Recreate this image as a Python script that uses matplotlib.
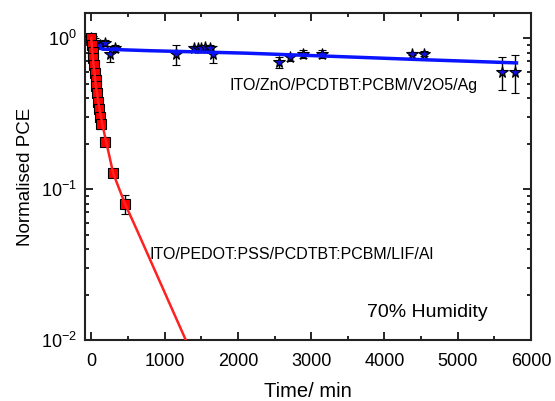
import matplotlib
matplotlib.use("Agg")
import matplotlib.pyplot as plt
from matplotlib.ticker import MultipleLocator, LogLocator, NullFormatter

plt.rcParams['font.family'] = ['Liberation Sans', 'DejaVu Sans']
plt.rcParams['mathtext.fontset'] = 'custom'
plt.rcParams['mathtext.rm'] = 'Liberation Sans'

# PEDOT:PSS / LiF device (red squares)
red_t = [0, 10, 20, 30, 40, 50, 60, 70, 80, 95, 110, 125, 140, 190, 300, 455]
red_v = [1.0, 0.90, 0.81, 0.74, 0.66, 0.59, 0.53, 0.48, 0.43, 0.38, 0.34, 0.30, 0.27, 0.205, 0.128, 0.080]
red_err = [0.03, 0.03, 0.02, 0.02, 0.02, 0.02, 0.02, 0.02, 0.02, 0.02, 0.02, 0.02, 0.02, 0.01, 0.008, 0.012]
red_fit_t = [0, 25, 60, 95, 150, 300, 460, 620, 1290]
red_fit_v = [1.0, 0.72, 0.50, 0.38, 0.27, 0.127, 0.080, 0.054, 0.010]

# ZnO / V2O5 device (blue stars)
blue_t = [0, 50, 118, 186, 255, 322, 1162, 1400, 1450, 1500, 1550, 1615, 1656,
          2558, 2713, 2885, 3148, 4381, 4540, 5605, 5778]
blue_v = [1.0, 0.945, 0.90, 0.93, 0.79, 0.855, 0.78, 0.855, 0.86, 0.86, 0.87, 0.86, 0.78,
          0.69, 0.75, 0.79, 0.79, 0.79, 0.79, 0.60, 0.60]
blue_err = [0.03, 0.05, 0.05, 0.04, 0.10, 0.04, 0.12, 0.03, 0.03, 0.03, 0.03, 0.04, 0.10,
            0.06, 0.04, 0.05, 0.05, 0.02, 0.03, 0.15, 0.17]
blue_fit_t = [0, 30, 70, 160, 800, 2100, 3200, 4500, 5800]
blue_fit_v = [1.0, 0.93, 0.875, 0.845, 0.825, 0.795, 0.76, 0.72, 0.685]

fig = plt.figure(figsize=(5.55, 4.01), dpi=100)
ax = fig.add_axes([0.153, 0.152, 0.804, 0.816])

ax.errorbar(blue_t, blue_v, yerr=blue_err, fmt='*', ms=8.5, mfc='#1010e0', mec='black',
            mew=0.8, ecolor='black', elinewidth=1, capsize=3, zorder=3)
ax.plot(blue_fit_t, blue_fit_v, color='#0a14ff', lw=2.5, zorder=4)

ax.errorbar(red_t, red_v, yerr=red_err, fmt='s', ms=6.5, mfc='#ff0000', mec='black',
            mew=0.8, ecolor='black', elinewidth=1, capsize=3, zorder=5)
ax.plot(red_fit_t, red_fit_v, color='#ff2020', lw=1.8, zorder=6)

ax.set_yscale('log')
ax.set_xlim(-86, 6000)
ax.set_ylim(0.01, 1.47)

ax.xaxis.set_major_locator(MultipleLocator(1000))
ax.xaxis.set_minor_locator(MultipleLocator(500))
ax.yaxis.set_major_locator(LogLocator(base=10))
ax.yaxis.set_minor_locator(LogLocator(base=10, subs=range(2, 10)))
ax.yaxis.set_minor_formatter(NullFormatter())

ax.tick_params(which='both', direction='in', top=True, right=True, labelsize=13, width=1.2)
ax.tick_params(which='major', length=6)
ax.tick_params(which='minor', length=3)
ax.tick_params(axis='x', pad=9)
ax.tick_params(axis='y', pad=6)
for s in ax.spines.values():
    s.set_linewidth(1.5)
    s.set_color('#222222')

ax.set_xlabel('Time/ min', fontsize=14.5, labelpad=9)
ax.set_ylabel('Normalised PCE', fontsize=13.5, labelpad=5)

ax.text(1887, 0.489, 'ITO/ZnO/PCDTBT:PCBM/V2O5/Ag', fontsize=11.5, va='center', ha='left')
ax.text(797, 0.0366, 'ITO/PEDOT:PSS/PCDTBT:PCBM/LIF/Al', fontsize=11.5, va='center', ha='left')
ax.text(3763, 0.0153, '70% Humidity', fontsize=14, va='center', ha='left')

fig.savefig('out.png', dpi=100)
